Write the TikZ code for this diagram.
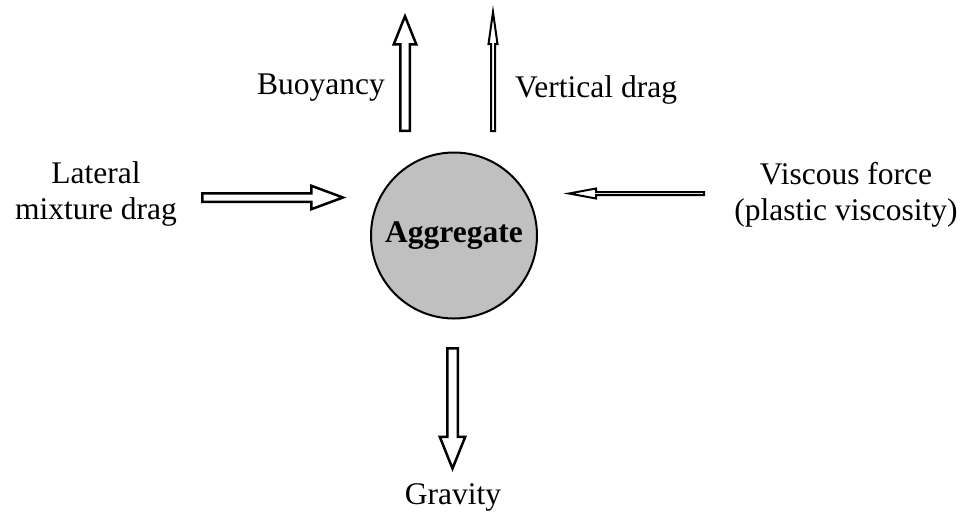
\documentclass[tikz,border=0pt]{standalone}
\usepackage{fontspec}
\setmainfont{Liberation Serif}
\usepackage{tikz}
\usetikzlibrary{positioning}
\definecolor{cAgg}{HTML}{C0C0C0}
% block arrow: [style]{tail}{angle}{length}{shaft half}{head half}{head length}
\newcommand{\forcearrow}[7][fat]{%
  \draw[#1,shift={#2},rotate=#3] (0,-#5) -- ({#4-#7},-#5) -- ({#4-#7},-#6) -- (#4,0)
    -- ({#4-#7},#6) -- ({#4-#7},#5) -- (0,#5) -- cycle;}

\begin{document}
\begin{tikzpicture}[
  x=1pt,y=-1pt,
  font=\fontsize{31.5}{36}\selectfont,
  lbl/.style={align=center,inner sep=0pt},
  fat/.style={draw,fill=white,line width=2.5pt},
  slim/.style={fat,line width=2pt}
]
\useasboundingbox (0,0) rectangle (969,520);
% aggregate
\node[circle,draw,line width=2pt,fill=cAgg,minimum size=166pt,inner sep=0pt,font=\fontsize{31.5}{36}\selectfont\bfseries]
     (agg) at (454,235.5) {Aggregate};
% force arrows
\forcearrow{(405,130.75)}{90}{114.5}{4.75}{11.25}{28}
\forcearrow[slim]{(493,131)}{90}{119}{2}{4.5}{32}
\forcearrow{(202.25,197.5)}{0}{140.75}{4.25}{11.75}{31.75}
\forcearrow[slim]{(704,193.5)}{180}{135}{1.5}{5}{27}
\forcearrow{(452.5,348.25)}{-90}{120.25}{5.25}{12.75}{31.75}
% labels
\node[lbl,anchor=base east] (tbuoy) at (385,94) {Buoyancy};
\node[lbl,anchor=base west] (tvdrag) at (515,97) {Vertical drag};
\node[lbl,anchor=base] (tlat) at (96,219) {Lateral\\mixture drag};
\node[lbl,anchor=base] (tvisc) at (846,220) {Viscous force\\(plastic viscosity)};
\node[lbl,anchor=base] (tgrav) at (453,504) {Gravity};
\end{tikzpicture}
\end{document}
